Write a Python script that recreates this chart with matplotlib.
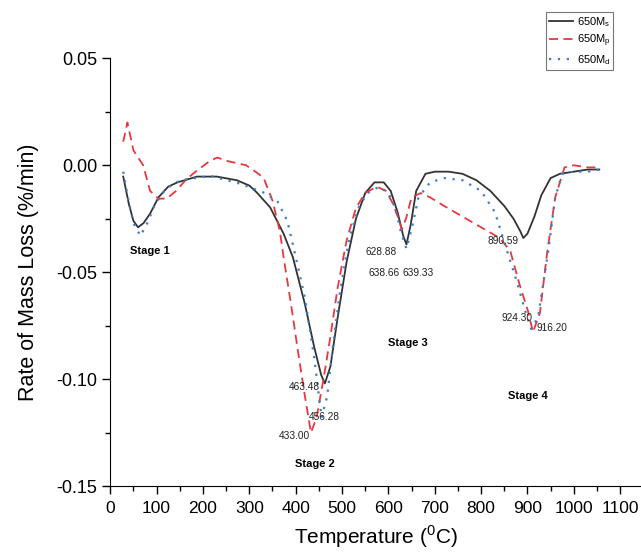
import matplotlib
matplotlib.use('Agg')
import matplotlib.pyplot as plt

plt.rcParams['font.family'] = ['Liberation Sans', 'DejaVu Sans']

# 650Ms (solid black)
t_s = [28, 40, 50, 60, 72, 86, 104, 125, 145, 187, 230, 273, 300, 316, 345, 374,
       394, 420, 440, 455, 463, 475, 490, 510, 530, 550, 570, 590, 605, 620, 632,
       639, 648, 660, 680, 700, 730, 760, 790, 820, 850, 870, 885, 891, 900, 915,
       930, 950, 970, 1000, 1030, 1055]
r_s = [-0.0053, -0.018, -0.026, -0.029, -0.027, -0.0226, -0.015, -0.010, -0.008,
       -0.0053, -0.0053, -0.007, -0.0095, -0.0127, -0.0197, -0.032, -0.043, -0.065,
       -0.085, -0.098, -0.102, -0.094, -0.072, -0.045, -0.025, -0.013, -0.008,
       -0.008, -0.012, -0.022, -0.033, -0.037, -0.028, -0.012, -0.004, -0.003,
       -0.003, -0.004, -0.007, -0.012, -0.019, -0.025, -0.031, -0.034, -0.032,
       -0.024, -0.014, -0.006, -0.004, -0.003, -0.002, -0.002]

# 650Mp (dashed red)
t_p = [28, 37, 50, 71, 86, 104, 122, 142, 164, 187, 216, 231, 252, 293, 316, 331,
       350, 366, 374, 390, 405, 420, 433, 445, 460, 475, 490, 510, 530, 550, 575,
       595, 610, 622, 629, 638, 650, 670, 690, 720, 760, 800, 840, 863, 882, 901,
       912, 927, 943, 960, 980, 1000, 1030, 1055]
r_p = [0.011, 0.020, 0.007, 0.000, -0.012, -0.0156, -0.0156, -0.012, -0.0066,
       -0.0025, 0.0022, 0.0036, 0.002, 0.000, -0.0034, -0.006, -0.0165, -0.031,
       -0.043, -0.065, -0.087, -0.108, -0.125, -0.118, -0.100, -0.080, -0.058,
       -0.035, -0.020, -0.013, -0.010, -0.012, -0.018, -0.025, -0.030, -0.025,
       -0.015, -0.013, -0.015, -0.019, -0.024, -0.029, -0.034, -0.040, -0.055,
       -0.068, -0.078, -0.069, -0.040, -0.015, -0.001, 0.0, -0.001, -0.001]

# 650Md (dotted blue)
t_d = [28, 38, 50, 65, 80, 97, 120, 151, 216, 280, 330, 360, 382, 395, 420, 440,
       456, 468, 480, 495, 515, 535, 555, 580, 600, 615, 628, 639, 650, 665, 690,
       720, 760, 800, 830, 856, 878, 895, 908, 923, 945, 960, 975, 1000, 1030,
       1055]
r_d = [-0.003, -0.015, -0.027, -0.033, -0.027, -0.018, -0.011, -0.007, -0.005,
       -0.0086, -0.0127, -0.0165, -0.026, -0.038, -0.062, -0.090, -0.118, -0.108,
       -0.085, -0.060, -0.035, -0.020, -0.013, -0.010, -0.013, -0.020, -0.032,
       -0.039, -0.030, -0.015, -0.008, -0.006, -0.007, -0.012, -0.022, -0.040,
       -0.055, -0.068, -0.0765, -0.071, -0.040, -0.015, -0.004, -0.003, -0.003,
       -0.002]

# peak labels: text, x, y
peak_labels = [('433.00', 398, -0.1265), ('463.48', 418, -0.1035),
               ('456.28', 462, -0.1175), ('628.88', 585, -0.0405),
               ('638.66', 590, -0.0505), ('639.33', 665, -0.0505),
               ('890.59', 847, -0.0355), ('924.30', 878, -0.0714),
               ('916.20', 953, -0.0760)]
stage_labels = [('Stage 1', 85, -0.040), ('Stage 2', 442, -0.1395),
                ('Stage 3', 643, -0.083), ('Stage 4', 902, -0.108)]

fig = plt.figure(figsize=(6.41, 5.55), dpi=100)
ax = fig.add_axes([0.172, 0.124, 0.828, 0.771])

ax.plot(t_s, r_s, color='#333333', lw=1.3, label=r'650M$_\mathregular{s}$')
ax.plot(t_p, r_p, color='#e8383d', lw=1.3, ls=(0, (5, 3)), label=r'650M$_\mathregular{p}$')
ax.plot(t_d, r_d, color='#3a7dc9', lw=1.6, ls=(0, (1, 3)), label=r'650M$_\mathregular{d}$')

for txt, x, y in peak_labels:
    ax.text(x, y, txt, fontsize=7.3, ha='center', va='center', color='#222222')
for txt, x, y in stage_labels:
    ax.text(x, y, txt, fontsize=8, fontweight='bold', ha='center', va='center')

ax.set_xlim(0, 1145)
ax.set_ylim(-0.15, 0.05)
ax.set_xticks(range(0, 1101, 100))
ax.set_xticks(range(50, 1101, 100), minor=True)
ax.set_yticks([-0.15, -0.10, -0.05, 0.00, 0.05])
ax.set_yticks([-0.125, -0.075, -0.025, 0.025], minor=True)
ax.set_yticklabels(['-0.15', '-0.10', '-0.05', '0.00', '0.05'])
ax.tick_params(axis='x', labelsize=12.5, direction='out', length=6, width=1, pad=5)
ax.tick_params(axis='y', labelsize=13, direction='out', length=6, width=1)
ax.tick_params(which='minor', length=3.5, width=1)
ax.spines['top'].set_visible(False)
ax.spines['right'].set_visible(False)
ax.spines['left'].set_bounds(-0.15, 0.05)

ax.set_xlabel(r'Temperature ($^\mathregular{0}$C)', fontsize=15, labelpad=5)
ax.set_ylabel('Rate of Mass Loss (%/min)', fontsize=15.5, labelpad=12)

leg = fig.legend(loc='upper right', bbox_to_anchor=(0.957, 0.978), fontsize=8,
                 frameon=True, fancybox=False, edgecolor='#555555',
                 handlelength=2.2, handletextpad=0.3, borderpad=0.25,
                 labelspacing=0.35, borderaxespad=0)
leg.get_frame().set_linewidth(0.8)

fig.savefig('out.png', dpi=100)
